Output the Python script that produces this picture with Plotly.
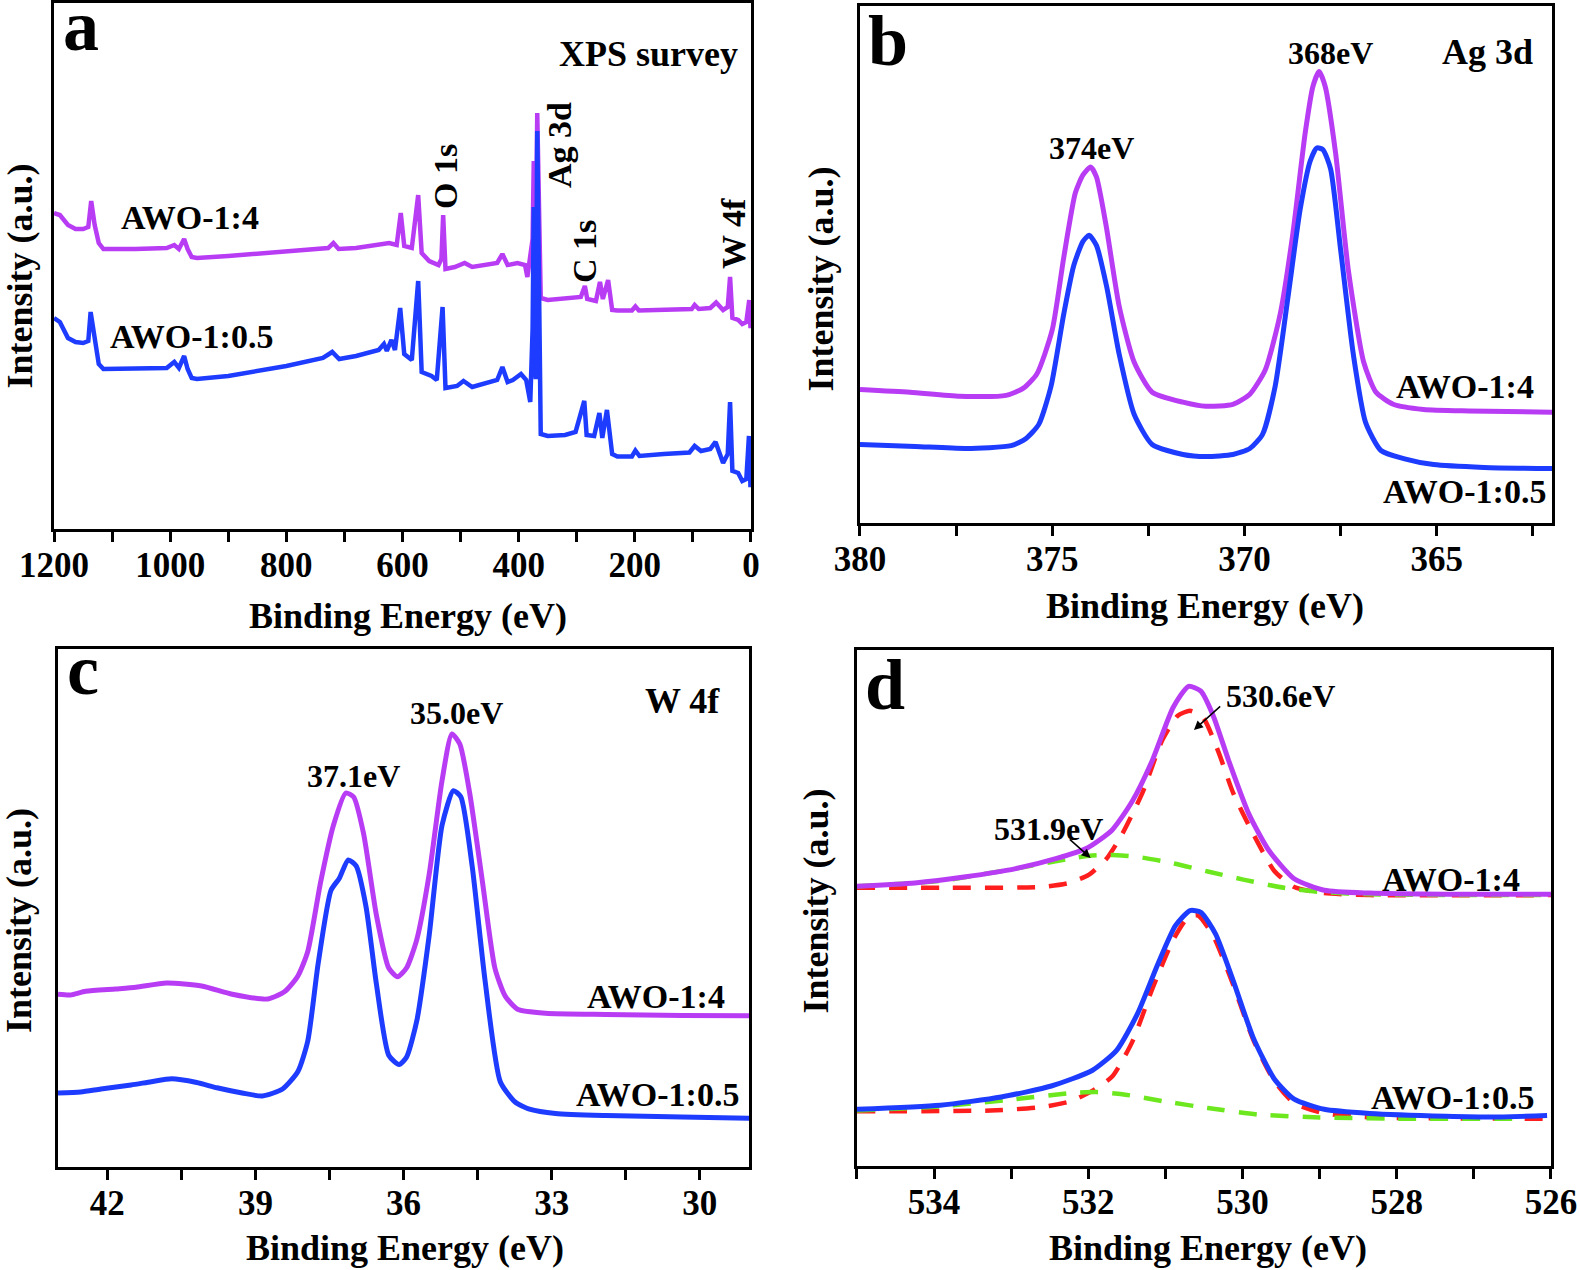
import plotly.graph_objects as go

# ---- panel a: XPS survey (binding energy eV, intensity a.u.)
a_e_14 = [1200, 1190, 1176, 1163, 1150, 1141, 1136, 1130, 1123, 1115, 1060, 1006, 993, 985, 976, 970,
          963, 954, 900, 850, 800, 740, 728, 719, 710, 680, 623, 610, 603, 597, 584, 573, 567, 554,
          538, 533, 530, 526, 510, 493, 480, 437, 428, 419, 402, 389, 385, 376, 374, 372, 370.5, 368,
          365, 362, 350, 320, 293, 286, 282, 267, 260, 255, 246, 239, 230, 205, 199, 193, 150, 102,
          97, 90, 70, 60, 48, 40, 36, 32, 22, 15, 8, 3, 1, 0]
a_i_14 = [316, 314, 304, 300, 300, 302, 328, 304, 286, 280, 280, 281, 284, 280, 290, 280,
          272, 271, 273, 275, 277, 280, 281, 286, 280, 281, 286, 284, 316, 283, 281, 334, 276, 268,
          264, 270, 314, 260, 262, 266, 262, 266, 275, 264, 266, 264, 252, 290, 368, 290, 280, 416,
          300, 231, 229, 230, 232, 243, 230, 228, 247, 230, 249, 219, 218.5, 218.5, 222.5, 218.5, 219, 220,
          224, 220, 221, 226.5, 219, 222, 252, 211, 209, 205, 207, 229, 203, 203]

a_e_105 = [1200, 1190, 1176, 1163, 1150, 1141, 1137, 1130, 1123, 1115, 1060, 1006, 993, 985, 976, 970,
           963, 954, 900, 850, 800, 737, 721, 709, 680, 641, 632, 627, 619, 613, 604, 597, 584, 573,
           567, 550, 541, 531, 526, 506, 495, 480, 437, 428, 419, 410, 396, 387, 380, 376, 374, 372,
           370.5, 368, 365, 362, 350, 320, 302, 287, 283, 270, 261, 256, 248, 239, 230, 205, 199, 192,
           150, 106, 97, 86, 70, 61, 48, 40, 36, 32, 22, 15, 8, 3.5, 1, 0]
a_i_105 = [211, 207, 191, 187, 186, 188, 217, 187, 165, 160, 161, 161, 167, 161, 173, 160,
           151, 150, 153, 158, 163, 171, 177, 170, 173, 179, 185, 178, 189, 179, 221, 175, 169, 248,
           157, 153, 149, 222, 141, 143, 148, 142, 149, 162, 147, 149, 155, 149, 127, 200, 322, 160,
           150, 398, 200, 95, 93, 94, 97, 128, 94, 93, 116, 91, 119, 75, 72.5, 72.5, 78.5, 73,
           75, 76.5, 83, 78, 80, 87, 66, 75, 127, 58, 56, 48, 50, 93, 44, 44]

# ---- panel b: Ag 3d
b_e_14 = [380, 378.7, 377.4, 376.2, 375.75, 375.4, 375.0, 374.7, 374.4, 374.2, 374.0, 373.85, 373.6,
          373.26, 372.87, 372.4, 371.6, 371.0, 370.3, 369.86, 369.46, 369.07, 368.74, 368.42, 368.22,
          368.06, 367.9, 367.63, 367.3, 366.9, 366.58, 366.13, 365.34, 364.16, 362.0]
b_i_14 = [133.6, 130.8, 126.8, 127.6, 134.8, 149, 193, 265.6, 330, 348, 356, 346, 297.7,
          217, 161, 130.8, 120.8, 116.7, 118.7, 128.8, 153, 209, 289.7, 390, 436.5,
          451.4, 436.5, 370, 253.5, 161, 130.8, 118.7, 113.5, 112, 110.7]
b_e_105 = [380, 378.56, 377.25, 376.07, 375.68, 375.35, 375.03, 374.7, 374.44, 374.2, 374.04, 373.85,
           373.59, 373.26, 372.87, 372.4, 371.6, 371.0, 370.3, 369.86, 369.53, 369.2, 368.87, 368.55,
           368.29, 368.12, 367.96, 367.76, 367.5, 367.17, 366.85, 366.45, 365.86, 365.08, 363.77, 362.0]
b_i_105 = [78.5, 76.5, 74.5, 77.3, 84.5, 98.6, 137, 209, 257.5, 281.6, 287.7, 277.6,
           237.4, 169, 108.7, 78.5, 68.5, 66.4, 68.5, 74.5, 88.6, 137, 225.3, 313.8,
           362, 375, 373.4, 354, 273.6, 169, 100.6, 72.5, 64.4, 58.4, 55.6, 54.4]

# ---- panel c: W 4f
c_e_14 = [43.0, 42.75, 42.44, 41.83, 41.42, 40.8, 40.09, 39.47, 38.75, 38.4, 38.14, 37.94, 37.68,
          37.42, 37.17, 37.01, 36.81, 36.55, 36.3, 36.12, 35.94, 35.73, 35.48, 35.22, 35.02, 34.86,
          34.66, 34.4, 34.15, 33.94, 33.69, 33.12, 31.9, 30.36, 29.0]
c_i_14 = [172.8, 172, 175.7, 178, 179.7, 184, 181, 172.8, 168, 175.7, 191, 215.5, 284.7,
          341.7, 374, 370, 333.5, 252, 199, 190.3, 199, 227.7, 292.8, 386.4, 433, 423,
          374, 284.7, 199, 170.8, 157.8, 153.7, 152.5, 151.6, 151.2]
c_e_105 = [43.0, 42.54, 42.13, 41.52, 41.11, 40.7, 40.19, 39.78, 39.27, 38.86, 38.45, 38.14, 37.94,
           37.73, 37.47, 37.3, 37.12, 36.96, 36.76, 36.55, 36.3, 36.09, 35.94, 35.73, 35.48, 35.22,
           34.99, 34.84, 34.61, 34.35, 34.04, 33.74, 33.43, 32.92, 31.9, 30.36, 29.0]
c_i_105 = [74, 75.1, 78, 82, 85.3, 88.2, 84.5, 79.2, 74, 71, 78, 95.5, 126,
           203.3, 276.6, 288.8, 307, 301, 260.3, 183, 111.8, 102.4, 109.7, 146.4, 231.8, 341.7,
           376.3, 370.2, 301, 187, 85.3, 65, 57.6, 53.6, 51.5, 49.9, 48.7]

# ---- panel d: O 1s with fitted components
d_e_14 = [535.0, 534.25, 533.59, 532.94, 532.41, 532.02, 531.69, 531.43, 531.17, 530.9, 530.7,
          530.54, 530.38, 530.18, 529.92, 529.66, 529.33, 528.94, 528.35, 527.36, 526.0]
d_i_14 = [279.8, 283.1, 289.2, 297.4, 307.6, 317.8, 336.1, 364.7, 405.5, 458.5, 479.7,
          474.8, 450.3, 405.5, 352.4, 315.7, 287.2, 275.8, 272.9, 271.7, 271.7]
d_e_14_lat = [535.0, 533.9, 532.61, 532.25, 531.99, 531.76, 531.56, 531.3, 531.04, 530.84, 530.68,
              530.51, 530.31, 530.12, 529.86, 529.59, 529.33, 528.94, 528.35, 526.0]
d_i_14_lat = [278.2, 278.2, 279, 283.1, 291.3, 307.6, 332, 372.8, 425.9, 450.3, 455.2,
              448.3, 413.6, 372.8, 332, 295.3, 279, 272.9, 270.9, 270.9]
d_e_14_ads = [535.0, 533.92, 532.94, 532.22, 531.95, 531.63, 531.3, 530.9, 530.45, 529.99, 529.46,
              529.0, 528.35, 526.0]
d_i_14_ads = [279.8, 285.1, 297.4, 307.6, 310.4, 310.8, 308.4, 302.7, 294.5, 286.4, 278.2,
              274.1, 271.7, 270.9]

d_e_105 = [535.0, 533.92, 533.13, 532.48, 531.95, 531.63, 531.36, 531.1, 530.87, 530.68, 530.54,
           530.35, 530.12, 529.86, 529.59, 529.33, 528.94, 528.35, 527.36, 526.71, 526.05]
d_i_105 = [56.7, 60.8, 69, 80, 95.5, 115.9, 152.6, 201.5, 240.3, 255.4, 253.7,
           232.1, 185.2, 128.1, 87.3, 66.9, 56.7, 52.6, 49.8, 49, 50.6]
d_e_105_lat = [535.0, 533.27, 532.61, 532.22, 531.95, 531.69, 531.43, 531.17, 530.9, 530.71, 530.58,
               530.38, 530.12, 529.86, 529.59, 529.33, 528.94, 528.35, 526.05]
d_i_105_lat = [54.7, 55.5, 58.8, 64.9, 75.1, 89.4, 124.1, 177.1, 226, 248.4, 250.5,
               230.1, 181.1, 126.1, 85.3, 62.8, 52.6, 48.6, 47.3]
d_e_105_ads = [535.0, 533.92, 532.94, 532.22, 531.89, 531.56, 531.04, 530.45, 529.79, 529.0, 528.02, 526.38]
d_i_105_ads = [55.5, 59.6, 66.9, 73, 73.9, 71.8, 64.9, 58, 51.4, 48.6, 47.3, 47.3]

PURPLE = "#B93CF5"
BLUE = "#1E3CFF"
RED = "#FF1E1E"
GREEN = "#6EE81E"
FONT = "Liberation Serif"

fig = go.Figure()


def line(x, y, color, ax, width=4, dash=None, shape="linear"):
    fig.add_trace(go.Scatter(x=x, y=y, mode="lines", xaxis="x" + ax, yaxis="y" + ax,
                             line=dict(color=color, width=width, dash=dash, shape=shape,
                                       smoothing=0.6),
                             showlegend=False, hoverinfo="skip"))


line(a_e_14, a_i_14, PURPLE, "", 4.5)
line(a_e_105, a_i_105, BLUE, "", 4.5)
line(b_e_14, b_i_14, PURPLE, "2", 5, shape="spline")
line(b_e_105, b_i_105, BLUE, "2", 5, shape="spline")
line(c_e_14, c_i_14, PURPLE, "3", 5, shape="spline")
line(c_e_105, c_i_105, BLUE, "3", 5, shape="spline")
line(d_e_14_lat, d_i_14_lat, RED, "4", 4.5, "18px,14px", "spline")
line(d_e_14_ads, d_i_14_ads, GREEN, "4", 4.5, "18px,14px", "spline")
line(d_e_105_lat, d_i_105_lat, RED, "4", 4.5, "18px,14px", "spline")
line(d_e_105_ads, d_i_105_ads, GREEN, "4", 4.5, "18px,14px", "spline")
line(d_e_14, d_i_14, PURPLE, "4", 5, shape="spline")
line(d_e_105, d_i_105, BLUE, "4", 5, shape="spline")


def xax(domain, rng, vals, labels, anchor):
    text = [str(v) if v in labels else "" for v in vals]
    return dict(domain=domain, range=rng, anchor=anchor, tickvals=vals, ticktext=text,
                ticks="outside", ticklen=10, tickwidth=2.5, tickcolor="black",
                ticklabelstandoff=-7,
                showline=True, linewidth=2.5, linecolor="black", mirror=True,
                showgrid=False, zeroline=False, automargin=False,
                tickfont=dict(family=FONT, size=35, color="black", weight="bold"))


def yax(domain, rng, anchor):
    return dict(domain=domain, range=rng, anchor=anchor, showticklabels=False, ticks="",
                showline=True, linewidth=2.5, linecolor="black", mirror=True,
                showgrid=False, zeroline=False, automargin=False)


fig.update_layout(
    width=1580, height=1270, margin=dict(l=0, r=0, t=0, b=0, autoexpand=False),
    paper_bgcolor="white", plot_bgcolor="white",
    xaxis=xax([0.0342, 0.4753], [1200, 0], list(range(0, 1201, 100)),
              [0, 200, 400, 600, 800, 1000, 1200], "y"),
    yaxis=yax([0.5835, 0.9976], [0, 526], "x"),
    xaxis2=xax([0.5443, 0.9823], [380, 362], [380, 377.5, 375, 372.5, 370, 367.5, 365, 362.5],
               [380, 375, 370, 365], "y2"),
    yaxis2=yax([0.5882, 0.9953], [0, 517], "x2"),
    xaxis3=xax([0.0367, 0.4741], [43, 29], [42, 40.5, 39, 37.5, 36, 34.5, 33, 31.5, 30],
               [42, 39, 36, 33, 30], "y3"),
    yaxis3=yax([0.0811, 0.4890], [0, 518], "x3"),
    xaxis4=xax([0.5424, 0.9816], [535, 526], list(range(526, 536)),
               [534, 532, 530, 528, 526], "y4"),
    yaxis4=yax([0.0819, 0.4882], [0, 516], "x4"),
)


def label(ax, x, y, text, size=34, xanchor="center", angle=0):
    fig.add_annotation(xref="x" + ax, yref="y" + ax, x=x, y=y, text=text, showarrow=False,
                       xanchor=xanchor, yanchor="middle", textangle=angle,
                       font=dict(family=FONT, size=size, color="black", weight="bold"))


# panel a
label("", 1153.5, 503, "a", 72)
label("", 19, 475, "XPS survey", 36, "right")
label("", 966, 311.6, "AWO-1:4")
label("", 964, 192.6, "AWO-1:0.5")
label("", 526.8, 352, "O 1s", 34, angle=-90)
label("", 330.5, 384, "Ag 3d", 34, angle=-90)
label("", 287.5, 278, "C 1s", 34, angle=-90)
label("", 31.0, 296, "W 4f", 34, angle=-90)

# panel b
label("2", 379.27, 481.5, "b", 72)
label("2", 373.99, 375, "374eV", 32)
label("2", 367.75, 470, "368eV", 32)
label("2", 362.44, 471, "Ag 3d", 36, "right")
label("2", 362.42, 136.6, "AWO-1:4", 34, "right")
label("2", 362.10, 31.6, "AWO-1:0.5", 34, "right")

# panel c
label("3", 42.49, 496.5, "c", 72)
label("3", 29.55, 466, "W 4f", 36, "right")
label("3", 34.92, 454, "35.0eV", 32)
label("3", 37.02, 391, "37.1eV", 32)
label("3", 29.45, 170.6, "AWO-1:4", 34, "right")
label("3", 29.16, 72.6, "AWO-1:0.5", 34, "right")

# panel d
label("4", 534.64, 480.5, "d", 72)
label("4", 529.51, 470, "530.6eV", 32)
label("4", 532.51, 337, "531.9eV", 32)
label("4", 526.38, 286.6, "AWO-1:4", 34, "right")
label("4", 526.19, 68.6, "AWO-1:0.5", 34, "right")
for tip, tail in [((530.63, 436), (530.27, 461)), ((531.97, 308), (532.26, 328))]:
    fig.add_annotation(xref="x4", yref="y4", axref="x4", ayref="y4", x=tip[0], y=tip[1],
                       ax=tail[0], ay=tail[1], text="", showarrow=True, arrowhead=2,
                       arrowsize=1.2, arrowwidth=1.5, arrowcolor="black")

# axis titles
for px, py in [(408, 616), (1205, 606), (405, 1248), (1208, 1248)]:
    fig.add_annotation(xref="paper", yref="paper", x=px / 1580, y=1 - py / 1270,
                       text="Binding Energy (eV)", showarrow=False,
                       xanchor="center", yanchor="middle",
                       font=dict(family=FONT, size=36, color="black", weight="bold"))
for px, py in [(19, 276.5), (820, 279.5), (19, 921), (815, 901.5)]:
    fig.add_annotation(xref="paper", yref="paper", x=px / 1580, y=1 - py / 1270,
                       text="Intensity (a.u.)", showarrow=False, textangle=-90,
                       xanchor="center", yanchor="middle",
                       font=dict(family=FONT, size=36, color="black", weight="bold"))

# page body has a default 8px margin; drop it so the figure sits at the window origin
fig.write_html("out.html", config={"displayModeBar": False},
               post_script="document.body.style.margin='0px';")
